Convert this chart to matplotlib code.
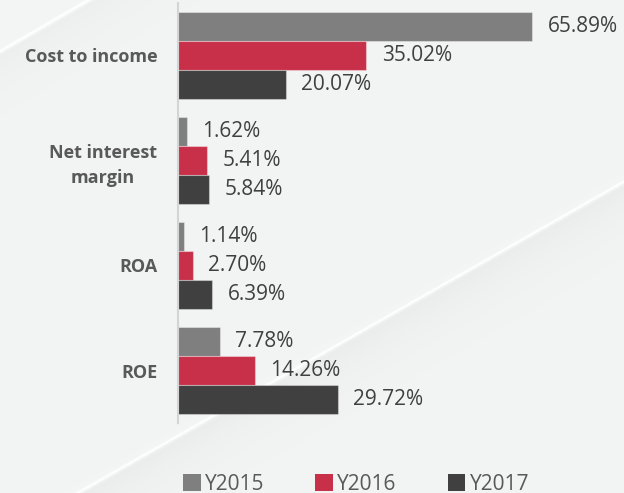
import numpy as np
import matplotlib
matplotlib.use("Agg")
import matplotlib.pyplot as plt

categories = ["Cost to income", "Net interest\nmargin", "ROA", "ROE"]
series_names = ["Y2015", "Y2016", "Y2017"]
y2015 = [65.89, 1.62, 1.14, 7.78]
y2016 = [35.02, 5.41, 2.70, 14.26]
y2017 = [20.07, 5.84, 6.39, 29.72]
colors = ["#7f7f7f", "#c8304a", "#404040"]

plt.rcParams['font.family'] = ['Open Sans', 'DejaVu Sans']

W, H = 624, 493
fig = plt.figure(figsize=(W / 100, H / 100), dpi=100)
bg = np.array([0xf3, 0xf4, 0xf4]) / 255.0

# background with soft diagonal streaks
bax = fig.add_axes([0, 0, 1, 1], zorder=-10)
bax.set_xlim(0, W)
bax.set_ylim(H, 0)
bax.axis("off")
xx, yy = np.meshgrid(np.arange(W) + 0.5, np.arange(H) + 0.5)
img = np.ones((H, W, 3)) * bg
slope = 0.57
norm = np.sqrt(1 + slope ** 2)
d1 = (yy - (493 - slope * (xx - 79))) / norm
shadow = np.where(d1 > 0, 0.035 * np.exp(-d1 / 30.0), 0.0)
high = 0.05 * np.exp(-(d1 / 2.0) ** 2)
d2 = (yy - (52 - 0.58 * xx)) / norm
shadow2 = np.where(d2 > 0, 0.025 * np.exp(-d2 / 30.0), 0.0)
high2 = 0.05 * np.exp(-(d2 / 2.0) ** 2)
img = img - (shadow + shadow2)[..., None] + (high + high2)[..., None]
img = np.clip(img, 0, 1)
bax.imshow(img, extent=(0, W, H, 0), aspect="auto", interpolation="bilinear")

ax = fig.add_axes([178 / W, 70 / H, 442 / W, 420 / H])
ax.set_facecolor("none")
pos = np.arange(len(categories))
h = 0.276
containers = []
for i, (vals, c) in enumerate(zip([y2015, y2016, y2017], colors)):
    bc = ax.barh(pos + (i - 1) * h, vals, height=h, color=c,
                 edgecolor=(1, 1, 1, 0.35), linewidth=0.8, label=series_names[i])
    containers.append(bc)
    ax.bar_label(bc, labels=[f"{v:.2f}%" for v in vals], padding=11,
                 fontsize=15, color="#404040", clip_on=False)

ax.set_ylim(3.5, -0.5)
ax.set_xlim(0, 442 / 5.38)
for s in ["top", "right", "bottom"]:
    ax.spines[s].set_visible(False)
ax.spines["left"].set_color("#d4d4d4")
ax.spines["left"].set_linewidth(1.5)
ax.set_xticks([])
ax.set_yticks(pos, labels=categories)
ax.tick_params(axis="y", length=0, pad=15)
for t in ax.get_yticklabels():
    t.set_fontweight("bold")
    t.set_fontsize(13)
    t.set_color("#595959")
    t.set_multialignment("center")
    t.set_linespacing(1.45)

leg = fig.legend(handles=containers, labels=series_names, loc="center",
                 bbox_to_anchor=(356 / W, 1 - 484 / H), ncol=3, frameon=False,
                 fontsize=15, labelcolor="#595959", handlelength=0.85,
                 handleheight=0.85, handletextpad=0.2, columnspacing=2.45,
                 borderpad=0, borderaxespad=0)
for p in leg.get_patches():
    p.set_edgecolor("none")

fig.savefig("out.png", dpi=100)
